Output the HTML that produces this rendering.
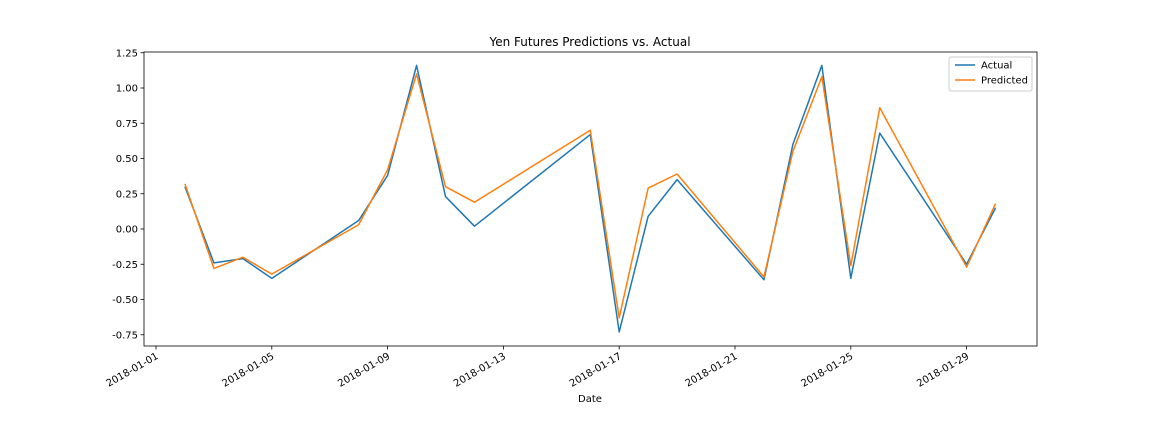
<!DOCTYPE html>
<html><head><meta charset="utf-8"><style>
body{margin:0;background:#fff;}
svg text{font-family:"DejaVu Sans","Liberation Sans",sans-serif;font-size:10px;fill:#000;}
</style></head><body>
<svg id="chart" width="1152" height="432" xmlns="http://www.w3.org/2000/svg">
<rect width="1152" height="432" fill="#fff"/>
<text x="590" y="46" text-anchor="middle" style="font-size:12px">Yen Futures Predictions vs. Actual</text>
<text x="590" y="402" text-anchor="middle">Date</text>
<g id="plot"></g>
</svg>
<script>
const dates=["2018-01-02","2018-01-03","2018-01-04","2018-01-05","2018-01-08","2018-01-09","2018-01-10","2018-01-11","2018-01-12","2018-01-16","2018-01-17","2018-01-18","2018-01-19","2018-01-22","2018-01-23","2018-01-24","2018-01-25","2018-01-26","2018-01-29","2018-01-30"];
const actual=[0.30,-0.24,-0.21,-0.35,0.06,0.38,1.16,0.23,0.02,0.67,-0.73,0.09,0.35,-0.36,0.60,1.16,-0.35,0.68,-0.25,0.15];
const predicted=[0.32,-0.28,-0.20,-0.32,0.03,0.42,1.10,0.30,0.19,0.70,-0.63,0.29,0.39,-0.34,0.55,1.08,-0.26,0.86,-0.27,0.18];
const xTicks=["2018-01-01","2018-01-05","2018-01-09","2018-01-13","2018-01-17","2018-01-21","2018-01-25","2018-01-29"];
const yTicks=[-0.75,-0.50,-0.25,0.00,0.25,0.50,0.75,1.00,1.25];

const NS="http://www.w3.org/2000/svg";
const L=144,R=1037,T=52,B=346;
const day0=Date.parse("2018-01-01");
function dayOf(s){return (Date.parse(s)-day0)/86400000;}
function xs(s){return 156+dayOf(s)*28.95;}
function ys(v){return 229-v*141;}
const g=document.getElementById('plot');
function el(tag,attrs){const e=document.createElementNS(NS,tag);for(const k in attrs)e.setAttribute(k,attrs[k]);g.appendChild(e);return e;}

const frame=el('rect',{x:L,y:T,width:R-L,height:B-T,fill:'none',stroke:'#000','stroke-width':0.8});



yTicks.forEach(v=>{
  const y=ys(v);
  const t=el('line',{x1:L-3.5,x2:L,y1:y,y2:y,stroke:'#000','stroke-width':0.8});
  
  
  const tx=el('text',{x:L-6,y:y+3.5,'text-anchor':'end'});
  tx.textContent=v.toFixed(2);
  
  
});
xTicks.forEach(s=>{
  const x=xs(s);
  const t=el('line',{x1:x,x2:x,y1:B,y2:B+3.5,stroke:'#000','stroke-width':0.8});
  
  
  const tx=el('text',{x:x+3,y:B+12,'text-anchor':'end',transform:`rotate(-30 ${x+3} ${B+12})`});
  tx.textContent=s;
  
  
});

function line(vals,color,name){
  const p=el('polyline',{points:vals.map((v,i)=>xs(dates[i])+','+ys(v)).join(' '),fill:'none',stroke:color,'stroke-width':1.5,'stroke-linejoin':'round'});
  
  
}
line(actual,'#1f77b4','actual-line');
line(predicted,'#ff7f0e','predicted-line');

const lg=el('rect',{x:949,y:57,width:83,height:34,fill:'#fff',stroke:'#ccc',rx:2});


[['Actual','#1f77b4',65],['Predicted','#ff7f0e',80]].forEach(([n,c,y])=>{
  const l=el('line',{x1:955,x2:975,y1:y,y2:y,stroke:c,'stroke-width':1.5});
  
  
  const t=el('text',{x:981,y:y+3.5});
  t.textContent=n;
  
  
});
</script>
</body></html>
